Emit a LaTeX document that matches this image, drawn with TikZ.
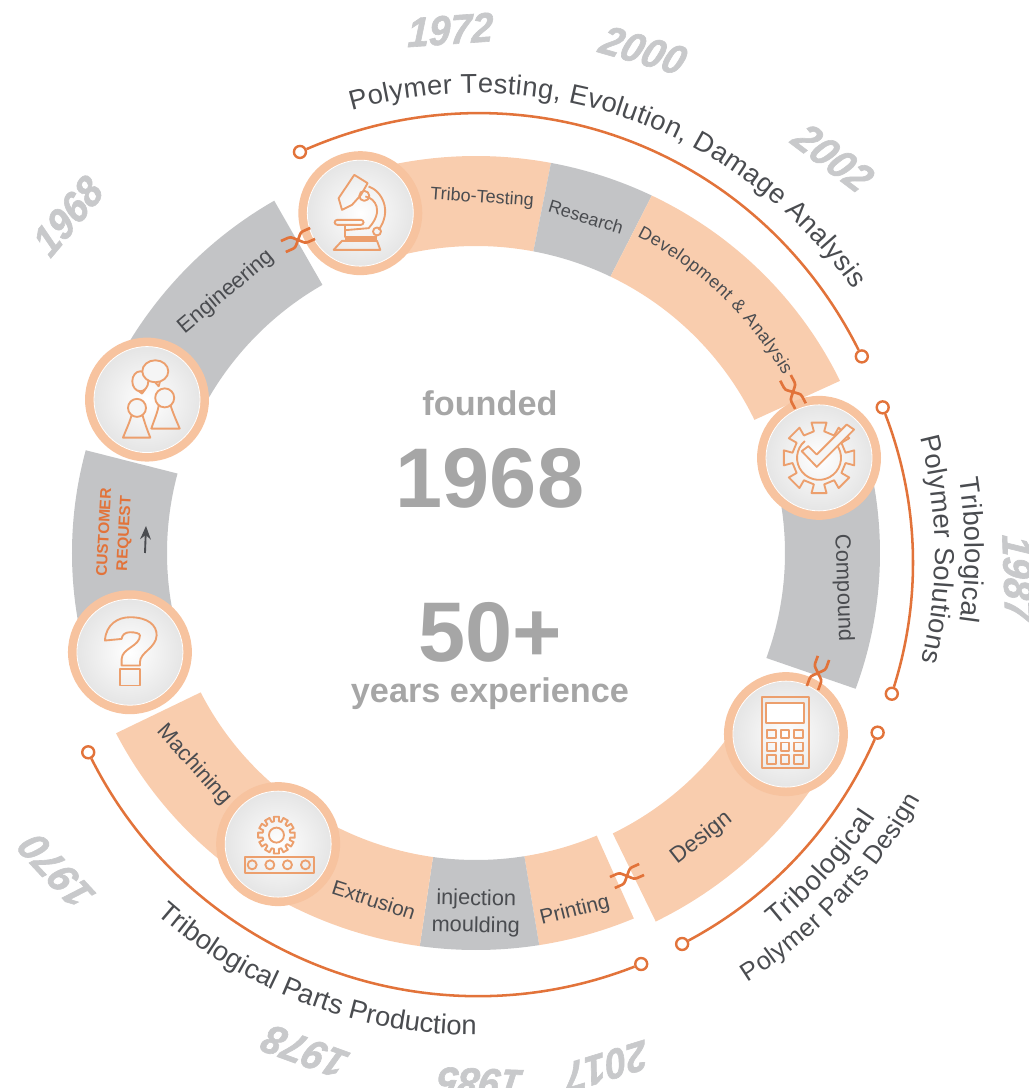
\documentclass[tikz,border=0pt]{standalone}
\usepackage{fontspec}
\usetikzlibrary{arrows.meta,decorations.text}
\setmainfont{Liberation Sans}
\newfontfamily\yearfamily[FakeStretch=0.93,FakeBold=1.5,FakeSlant=0.1]{Liberation Sans}
\definecolor{peach}{HTML}{F9CDAE}
\definecolor{bandgrey}{HTML}{C3C4C6}
\definecolor{rim}{HTML}{F7C39F}
\definecolor{iconorange}{HTML}{EC9F6D}
\definecolor{lineorange}{HTML}{E2733A}
\definecolor{txtdark}{HTML}{4A4C50}
\definecolor{bigtxt}{HTML}{A6A6A6}
\definecolor{yeargrey}{HTML}{C8C9CB}
\newcommand{\titlefont}{\fontsize{20.5}{24}\selectfont\color{txtdark}}
\newcommand{\ringseg}[3]{\fill[#3] (#1:404 and 397) arc (#1:#2:404 and 397) -- (#2:309 and 307) arc (#2:#1:309 and 307) -- cycle;}
\begin{document}
\begin{tikzpicture}[x=.75pt, y=.75pt,
    badge/.style = {draw=rim, circle, line width=6.75pt, minimum size=86.2pt, inner color=white, outer color=black!11},
    rimline/.style = {draw=white, line width=.6pt},
    iconline/.style = {draw=iconorange, line width=1.4pt, line join=round},
    seglabel/.style = {text=txtdark, font=\fontsize{#1}{20.25}\selectfont, align=center, inner sep=0pt},
    bigfig/.style = {text=bigtxt, font=\bfseries\fontsize{63.5}{70}\selectfont, inner sep=0pt},
    bigword/.style = {text=bigtxt, font=\bfseries\fontsize{25.7}{30}\selectfont, inner sep=0pt},
    yearlabel/.style = {text=yeargrey, font=\yearfamily\bfseries\itshape\fontsize{31}{36}\selectfont, inner sep=0pt},
    dotend/.style = {draw=lineorange, circle, fill=white, line width=1.8pt, minimum size=9pt, inner sep=0pt},
    spanline/.style = {draw=lineorange, line width=1.9pt},
    linkline/.style = {draw=lineorange, line width=2pt},
    linkmark/.pic = {
        \draw[linkline] (-16,6) -- (-8,6) .. controls (-4,6) and (-3,2) .. (0,0) .. controls (3,-2) and (4,-6) .. (8,-6) -- (16,-6);
        \draw[linkline] (-16,-6) -- (-8,-6) .. controls (-4,-6) and (-3,-2) .. (0,0) .. controls (3,2) and (4,6) .. (8,6) -- (16,6);
    }]
    \useasboundingbox (-476,-535) rectangle (552,553);
    %Ring
    \ringseg{108.8}{79.3}{peach}
    \ringseg{79.3}{64.2}{bandgrey}
    \ringseg{64.2}{25.7}{peach}
    \ringseg{15.5}{-20}{bandgrey}
    \fill[peach] (-30.3:410) arc (-30.3:-64:410) -- (-64:312) arc (-64:-30.3:312) -- cycle;
    \ringseg{-67}{-81}{peach}
    \ringseg{-81}{-98}{bandgrey}
    \ringseg{-98}{-124.2}{peach}
    \ringseg{-124.2}{-153}{peach}
    \ringseg{196}{165}{bandgrey}
    \fill[bandgrey] (155:406) arc (155:119.8:406) -- (119.8:309) arc (119.8:155:309) -- cycle;
    %Badges
    \node[badge] (mic) at (108.8:359) {};
    \node[badge] (cog) at (15.5:356) {};
    \node[badge] (calc) at (-30.3:359) {};
    \node[badge] (belt) at (-124.2:352) {};
    \node[badge] (ask) at (196:360) {};
    \node[badge] (talk) at (155:363) {};
    \foreach \b in {mic,cog,calc,belt,ask,talk}
        \draw[rimline] (\b.center) circle (53);
    %Microscope
    \begin{scope}[shift={(mic.center)}]
        \draw[iconline] (-21.7,15) -- (-6,38.3) -- (7.3,30) -- (.7,18.3) -- (-8.3,8.3) -- (-18.3,3.3) -- cycle;
        \draw[iconline] (8.3,26.7) .. controls (22,22) and (32,2) .. (18.3,-16.7);
        \draw[iconline] (5,16.7) .. controls (15,15) and (24,2) .. (8.3,-15) -- (-15,-17);
        \draw[iconline] (4,17.3) circle (5);
        \draw[iconline] (16.7,-18.3) circle (4);
        \draw[iconline, rounded corners=2] (-25.7,-6.7) rectangle (3.3,-11.7);
        \draw[iconline] (-15,-11.7) -- (-15,-23.5) -- (16.7,-23.5);
        \draw[iconline] (-15,-25.5) -- (16.7,-25.5);
        \draw[iconline] (-26.7,-36.7) -- (-18.3,-27.7) -- (16.7,-27.7) -- (20,-36.7) -- cycle;
    \end{scope}
    %Gear and tick
    \begin{scope}[shift={(cog.center)}]
        \draw[iconline] (-11:27) \foreach \a in {0,45,...,315} { -- (\a-12:36) -- (\a+12:36) -- (\a+11:27) -- (\a+34:27) } -- cycle;
        \draw[iconline] (40:22) arc (40:-230:22);
        \draw[iconline, fill=white!96!black] (-17.3,6.7) -- (-10.7,11.7) -- (-2.3,3.3) -- (27.7,33.3) -- (35,28.3) -- (-2.3,-9) -- cycle;
    \end{scope}
    %Calculator
    \begin{scope}[shift={(calc.center)}]
        \draw[iconline] (-24,36.7) rectangle (22.7,-34.3);
        \draw[iconline, fill=white] (-19.7,30.7) rectangle (17.7,10.7);
        \foreach \x in {-14.3,-1,12.7}
            \foreach \y in {0,-12.7,-25.3}
                \draw[iconline] (\x-4.3,\y-4.3) rectangle (\x+4.3,\y+4.3);
    \end{scope}
    %Gear on belt
    \begin{scope}[shift={(belt.center)}]
        \begin{scope}[shift={(-1.7,9)}]
            \draw[iconline] (-10:14) \foreach \a in {0,30,...,330} { -- (\a-8:18.5) -- (\a+8:18.5) -- (\a+10:14) -- (\a+20:14) } -- cycle;
            \draw[iconline] (0,0) circle (7.5);
        \end{scope}
        \draw[iconline] (-33.3,-12.7) rectangle (35.7,-28.7);
        \foreach \x in {-26,-8.3,9.3,27.3}
            \draw[iconline] (\x,-20.7) circle (4.5);
    \end{scope}
    %Question mark
    \begin{scope}[shift={(ask.center)}]
        \draw[iconline] (-25,11.7) .. controls (-24,28) and (-12,35) .. (0,35) .. controls (18,35) and (27,27) .. (26.7,16.7) .. controls (26,4) and (10,0) .. (10,-10) -- (10,-13.3) -- (-8.3,-13.3) -- (-8.3,-6.7) .. controls (-8,4) and (10,6) .. (10,16.7) .. controls (10,19) and (5,20) .. (0,20) .. controls (-5,20) and (-8,17) .. (-8.3,13.3) -- cycle;
        \draw[iconline] (-10,-16.7) rectangle (10,-33.3);
    \end{scope}
    %People
    \begin{scope}[shift={(talk.center)}]
        \draw[iconline] (-24,-38) .. controls (-20,-28) and (-17,-22) .. (-15,-14) -- (-5,-14) .. controls (-2,-24) and (0,-30) .. (3.3,-38) -- cycle;
        \draw[iconline, fill=white!96!black] (-10,-8.3) circle (9);
        \draw[iconline] (4.3,-29) .. controls (8,-18) and (11,-12) .. (12,-4) -- (23,-4) .. controls (26,-14) and (29,-20) .. (32.7,-29) -- cycle;
        \draw[iconline, fill=white!96!black] (17.7,1.7) circle (9.5);
        \draw[iconline, fill=white!96!black] (-6.7,18.3) ellipse (8 and 10);
        \draw[iconline] (-9,9) -- (-5,6) -- (-2,10);
        \draw[iconline, fill=white!96!black] (8.3,28.3) ellipse (13 and 11);
        \draw[iconline] (8,17.5) -- (11.7,13.3) -- (13,18.3);
    \end{scope}
    %Ring labels
    \node[seglabel=16.5, rotate=40] (eng) at (-250,261) {Engineering};
    \node[seglabel=13.5, rotate=-4] (tribo) at (6,355) {Tribo-Testing};
    \node[seglabel=13.5, rotate=-17] (res) at (110,336) {Research};
    \node[seglabel=16.4, rotate=-88] (comp) at (367,-35) {Compound};
    \node[seglabel=17, rotate=38] (des) at (226,-285) {Design};
    \node[seglabel=15.7, rotate=14] (pri) at (99,-358) {Printing};
    \node[seglabel=16.3, rotate=-1] (inj) at (0,-360) {injection\\moulding};
    \node[seglabel=15.5, rotate=-18] (ext) at (-102,-347) {Extrusion};
    \node[seglabel=16.5, rotate=-48] (mach) at (-282,-212) {Machining};
    \node[text=lineorange, rotate=87, align=center, inner sep=0pt, font=\bfseries\fontsize{11.6}{15}\selectfont] (cust) at (-361,20) {CUSTOMER\\REQUEST};
    \path[decorate, decoration={text along path, text align={fit to path}, text={|\fontsize{13.4}{16}\selectfont\color{txtdark}|Development {\&} Analysis}}] (63:355) arc (63:30:355);
    \coordinate (upA) at (-331,0);
    \coordinate (upB) at (-330,27);
    \draw[-{Stealth[length=10pt,width=8pt]}, txtdark, line width=1.4pt] (upA) to (upB);
    %Centre
    \node[bigword] (fnd) at (14,150) {founded};
    \node[bigfig] (yr) at (14,75) {1968};
    \node[bigfig] (fifty) at (14,-79) {50+};
    \node[bigword] (exp) at (14,-141) {years experience};
    %Years
    \node[yearlabel, rotate=4] (y72) at (-27,523) {1972};
    \node[yearlabel, rotate=-16] (y00) at (166,503) {2000};
    \node[yearlabel, rotate=-37] (y02) at (356,396) {2002};
    \node[yearlabel, rotate=-88] (y87) at (542,-24) {1987};
    \node[yearlabel, rotate=50] (y68) at (-409,336) {1968};
    \node[yearlabel, rotate=133] (y70) at (-419,-319) {1970};
    \node[yearlabel, rotate=160] (y78) at (-170,-499) {1978};
    \node[yearlabel, rotate=178] (y85) at (5,-530) {1985};
    \node[yearlabel, rotate=197] (y17) at (131,-513) {2017};
    %Spans
    \node[dotend] (topA) at (113.7:438) {};
    \node[dotend] (topB) at (27:433) {};
    \node[dotend] (rgtA) at (19.7:432) {};
    \node[dotend] (rgtB) at (-18.7:439) {};
    \node[dotend] (desA) at (-24.1:440) {};
    \node[dotend] (desB) at (-62.2:442) {};
    \node[dotend] (botA) at (-68.1:443) {};
    \node[dotend] (botB) at (-152.8:436) {};
    \draw[spanline] (topA) to[bend left=43.35] (topB);
    \draw[spanline] (rgtA) to[bend left=19.2, looseness=.88] (rgtB);
    \draw[spanline] (desA) to[bend left=19, looseness=.88] (desB);
    \draw[spanline] (botB) to[bend right=42.3, looseness=.98] (botA);
    \path[decorate, decoration={text along path, text align={fit to path}, text={|\titlefont|Polymer Testing, Evolution, Damage Analysis}}] (105.7:460) arc (105.7:35:460);
    \path[decorate, decoration={text along path, text align={fit to path}, text={|\titlefont|Polymer Solutions}}] (14.6:459) arc (14.6:-13.7:459);
    \path[decorate, decoration={text along path, text align={fit to path}, text={|\titlefont|Tribological}}] (8.8:489) arc (8.8:-8.1:489);
    \path[decorate, decoration={text along path, text align={fit to path}, text={|\titlefont|Tribological}}] (-51.3:479) arc (-51.3:-33.5:479);
    \path[decorate, decoration={text along path, text align={fit to path}, text={|\fontsize{19}{23}\selectfont\color{txtdark}|Polymer Parts Design}}] (-57.7:508) arc (-57.7:-29:508);
    \path[decorate, decoration={text along path, text align={fit to path}, text={|\titlefont|Tribological Parts Production}}] (-131.5:482) arc (-131.5:-90:482);
    %Links
    \pic[rotate=24] at (-178,313) {linkmark};
    \pic[rotate=-62] at (317,161) {linkmark};
    \pic[rotate=70] at (342,-120) {linkmark};
    \pic[rotate=24] at (151,-323) {linkmark};
\end{tikzpicture}
\end{document}
